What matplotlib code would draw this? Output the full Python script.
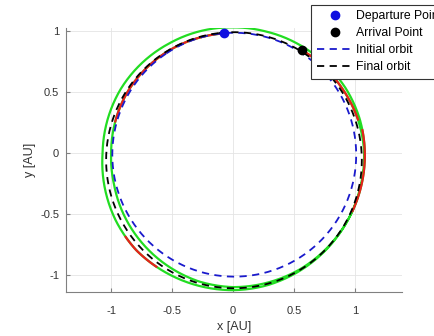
import matplotlib
matplotlib.use("Agg")
import matplotlib.pyplot as plt
import numpy as np

plt.rcParams['font.family'] = ['Liberation Sans', 'DejaVu Sans']

# orbit elements: semi-major axis [AU], eccentricity, argument of perihelion [deg]
initial_orbit = dict(a=1.0, e=0.017, w=124.0)
final_orbit = dict(a=1.05, e=0.057, w=97.0)

# departure / arrival points [AU]
departure = (-0.071, 0.981)
arrival = (0.563, 0.844)

# transfer trajectory: polar angle [deg], radius [AU]
traj_theta = [94, 105, 120, 135, 150, 165, 180, 195, 210, 225, 240, 255, 270, 285,
              300, 315, 330, 345, 360, 375, 390, 405, 420, 435, 450, 465, 480, 495,
              510, 525, 540, 555, 570, 585, 600, 615, 630, 645, 660, 675, 690, 705,
              720, 735, 750, 765, 776]
traj_r = [0.984, 0.985, 0.99, 0.995, 1.0, 1.0, 1.0, 1.01, 1.03, 1.05, 1.07, 1.09, 1.10, 1.10,
          1.10, 1.095, 1.09, 1.085, 1.08, 1.075, 1.065, 1.05, 1.04, 1.032, 1.03, 1.035, 1.04, 1.05,
          1.06, 1.065, 1.07, 1.09, 1.11, 1.125, 1.125, 1.125, 1.125, 1.12, 1.11, 1.10, 1.09, 1.08,
          1.075, 1.06, 1.04, 1.025, 1.015]
# thrust arcs (angle ranges, deg)
thrust_arcs = [(94, 165), (334, 370), (578, 596), (735, 776)]

xticks = [-1, -0.5, 0, 0.5, 1]
yticks = [-1, -0.5, 0, 0.5, 1]


def orbit_xy(a, e, w):
    nu = np.linspace(0, 2 * np.pi, 400)
    r = a * (1 - e**2) / (1 + e * np.cos(nu))
    ang = nu + np.radians(w)
    return r * np.cos(ang), r * np.sin(ang)


def arc_xy(lo, hi):
    # radius taken piecewise along the angle so the arcs stay round
    deg = np.linspace(lo, hi, int(hi - lo) * 2 + 2)
    r = np.interp(deg, traj_theta, traj_r)
    return r * np.cos(np.radians(deg)), r * np.sin(np.radians(deg))


fig = plt.figure(figsize=(4.34, 3.36), dpi=100)
ax = fig.add_axes([66 / 434, 1 - 292 / 336, 336 / 434, 264 / 336])

ax.plot(*arc_xy(traj_theta[0], traj_theta[-1]), color='#22dd22', lw=1.6, zorder=2)
for lo, hi in thrust_arcs:
    ax.plot(*arc_xy(lo, hi), color='#e8201c', lw=1.6, zorder=3)

ax.plot([], [], 'o', color='#1010e0', ms=6, label='Departure Point')
ax.plot([], [], 'o', color='black', ms=6, label='Arrival Point')
ix, iy = orbit_xy(**initial_orbit)
ax.plot(ix, iy, '--', color='#1a1acc', lw=1.3, dashes=(4, 3), label='Initial orbit', zorder=4)
fx, fy = orbit_xy(**final_orbit)
ax.plot(fx, fy, '--', color='black', lw=1.3, dashes=(4, 3), label='Final orbit', zorder=4)
ax.plot(*departure, 'o', color='#1010e0', ms=6, zorder=5)
ax.plot(*arrival, 'o', color='black', ms=6, zorder=5)

ax.set_xlim(-1.37, 1.385)
ax.set_ylim(-1.14, 1.025)
ax.set_xticks(xticks)
ax.set_xticklabels(['-1', '-0.5', '0', '0.5', '1'])
ax.set_yticks(yticks)
ax.set_yticklabels(['-1', '-0.5', '0', '0.5', '1'])
ax.grid(True, color='#e4e4e4', lw=0.6)
ax.set_axisbelow(True)
for s in ['top', 'right']:
    ax.spines[s].set_visible(False)
for s in ['left', 'bottom']:
    ax.spines[s].set_color('#808080')
ax.tick_params(direction='in', length=3, color='#808080', labelsize=8, labelcolor='#333333')
ax.tick_params(axis='x', pad=10)
ax.tick_params(axis='y', pad=5)
ax.set_xlabel('x [AU]', fontsize=9, color='#333333', labelpad=4)
ax.set_ylabel('y [AU]', fontsize=9, color='#333333', labelpad=3)

leg = fig.legend(loc='upper left', bbox_to_anchor=(311 / 434, 1 - 5 / 336), fontsize=8.8,
                 frameon=True, fancybox=False, edgecolor='#333333', framealpha=1,
                 handlelength=2.95, handletextpad=0.3, borderpad=0.45, labelspacing=0.4,
                 borderaxespad=0)
leg.get_frame().set_linewidth(0.8)

fig.savefig('out.png', dpi=100)
